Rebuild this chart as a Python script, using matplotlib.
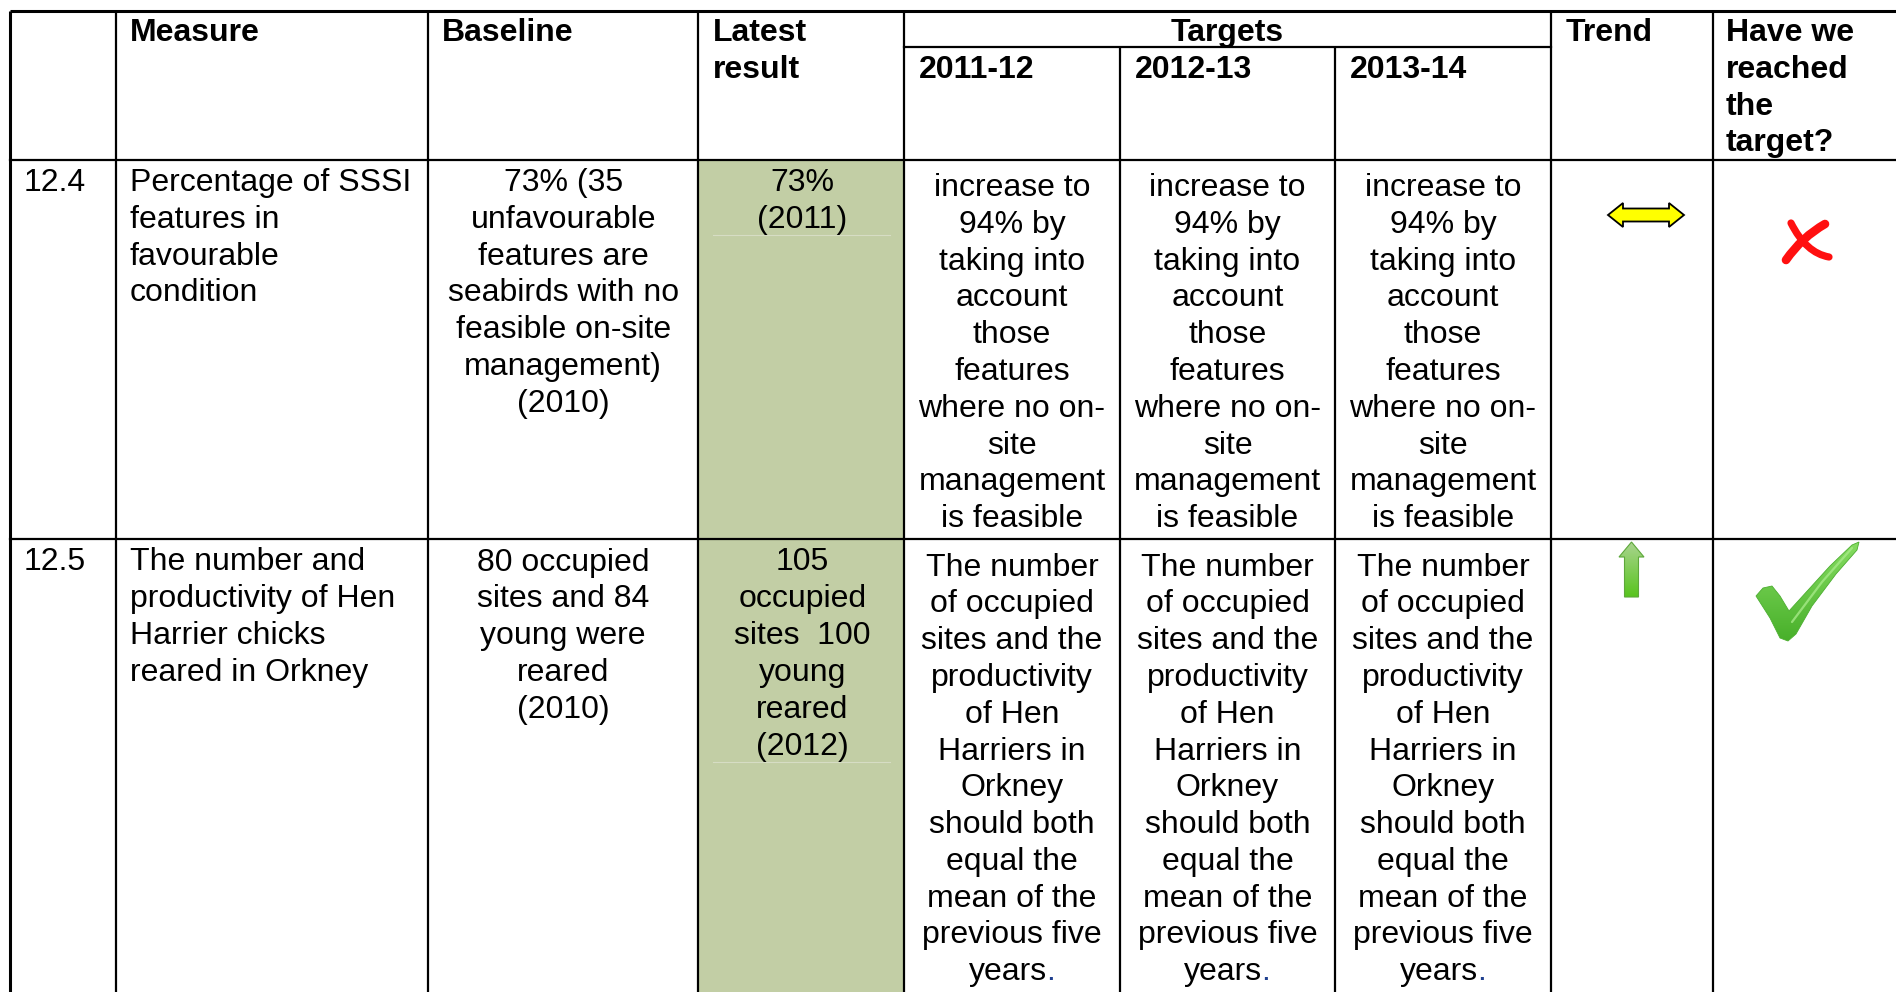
import matplotlib
matplotlib.use("Agg")
import matplotlib.pyplot as plt
import numpy as np
from matplotlib.patches import Polygon, Rectangle, PathPatch
from matplotlib.path import Path
from matplotlib.colors import to_rgb

plt.rcParams['font.family'] = ['Liberation Sans', 'DejaVu Sans']

# ---------------- data ----------------
header_main = ["Measure", "Baseline", "Latest\nresult"]
targets_title = "Targets"
target_years = ["2011-12", "2012-13", "2013-14"]
trend_title = "Trend"
reached_title = "Have we\nreached\nthe\ntarget?"

row_ids = ["12.4", "12.5"]
measures = [
    ["Percentage of SSSI", "features in", "favourable", "condition"],
    ["The number and", "productivity of Hen", "Harrier chicks", "reared in Orkney"],
]
baselines = [
    ["73% (35", "unfavourable", "features are", "seabirds with no",
     "feasible on-site", "management)", "(2010)"],
    ["80 occupied", "sites and 84", "young were", "reared", "(2010)"],
]
latest = [
    ["73%", "(2011)"],
    ["105", "occupied", "sites  100", "young", "reared", "(2012)"],
]
target_text = [
    ["increase to", "94% by", "taking into", "account", "those", "features",
     "where no on-", "site", "management", "is feasible"],
    ["The number", "of occupied", "sites and the", "productivity", "of Hen",
     "Harriers in", "Orkney", "should both", "equal the", "mean of the",
     "previous five", "years."],
]
trend = ["flat", "up"]
reached = ["no", "yes"]

# ---------------- layout ----------------
W, H = 1896, 992
fig = plt.figure(figsize=(W / 100, H / 100), dpi=100)
ax = fig.add_axes([0, 0, 1, 1])
ax.set_xlim(0, W)
ax.set_ylim(H, 0)
ax.axis('off')

col_x = [10.5, 116.5, 428, 698.5, 904, 1120, 1335, 1551, 1713]
y_top, y_sub, y_head, y_row2 = 11, 47, 159.5, 539
row_tops = [y_head, y_row2]

FS = 23
STEP = 36.8
GREEN_CELL = '#C2CEA5'
outer_lw = 2.2
inner_lw = 1.6

# green shading of "Latest result" column
ax.add_patch(Rectangle((col_x[3], y_head), col_x[4] - col_x[3], H - y_head,
                       facecolor=GREEN_CELL, edgecolor='none', zorder=0))

# grid lines
ax.plot([col_x[0], W + 5], [y_top, y_top], color='black', lw=outer_lw, solid_capstyle='butt')
ax.plot([col_x[4], col_x[7]], [y_sub, y_sub], color='black', lw=inner_lw)
for yy in [y_head, y_row2]:
    ax.plot([col_x[0], W + 5], [yy, yy], color='black', lw=inner_lw)
for i, xx in enumerate(col_x):
    y0 = y_sub if i in (5, 6) else y_top
    ax.plot([xx, xx], [y0, H + 5], color='black',
            lw=outer_lw if i == 0 else inner_lw, solid_capstyle='butt')


def draw_lines(lines, x, y0, ha='left', weight='normal', color='black'):
    arts = []
    for k, ln in enumerate(lines):
        arts.append(ax.text(x, y0 + k * STEP, ln, ha=ha, va='baseline',
                            fontsize=FS, fontweight=weight, color=color, zorder=3))
    return arts


# header
hb = 41
draw_lines(header_main[0].split("\n"), 130, hb, weight='bold')
draw_lines(header_main[1].split("\n"), 442, hb, weight='bold')
draw_lines(header_main[2].split("\n"), 713, hb, weight='bold')
ax.text((col_x[4] + col_x[7]) / 2, hb, targets_title, ha='center', va='baseline',
        fontsize=FS, fontweight='bold')
for j, yr in enumerate(target_years):
    ax.text(col_x[4 + j] + 15, hb + STEP, yr, ha='left', va='baseline',
            fontsize=FS, fontweight='bold')
draw_lines(trend_title.split("\n"), 1566, hb, weight='bold')
draw_lines(reached_title.split("\n"), 1726, hb, weight='bold')

# body rows
period_texts = []
for r in range(2):
    b0 = row_tops[r] + 31.5
    draw_lines([row_ids[r]], 24, b0)
    draw_lines(measures[r], 130, b0)
    draw_lines(baselines[r], (col_x[2] + col_x[3]) / 2, b0, ha='center')
    draw_lines(latest[r], (col_x[3] + col_x[4]) / 2 + 1, b0, ha='center')
    # faint paragraph rule under the latest result
    yl = b0 + (len(latest[r]) - 1) * STEP + 7
    ax.plot([713, 890], [yl, yl], color='#D6DDC4', lw=0.8, zorder=1)
    for j in range(3):
        cx = (col_x[4 + j] + col_x[5 + j]) / 2
        arts = draw_lines(target_text[r], cx, b0 + 5, ha='center')
        if target_text[r][-1].endswith('.'):
            period_texts.append(arts[-1])

# split the final "years." into black word + blue full stop
fig.canvas.draw()
renderer = fig.canvas.get_renderer()
inv = ax.transData.inverted()
for t in period_texts:
    bb = t.get_window_extent(renderer)
    xl, _ = inv.transform((bb.x0, bb.y0))
    yb = t.get_position()[1]
    word = t.get_text()[:-1]
    t.set_text(word)
    t.set_ha('left')
    t.set_x(xl)
    bb2 = t.get_window_extent(renderer)
    xw, _ = inv.transform((bb2.x1, bb2.y0))
    ax.text(xw - 1.0, yb, ".", ha='left', va='baseline', fontsize=FS,
            color='#1F3F8F', zorder=4)


def grad_poly(verts, c_top, c_bot, edge, lw=1.0):
    poly = Polygon(verts, closed=True, facecolor='none', edgecolor=edge, lw=lw, zorder=6)
    ax.add_patch(poly)
    xs = [v[0] for v in verts]
    ys = [v[1] for v in verts]
    t = np.linspace(0, 1, 64)[:, None, None]
    img = np.array(to_rgb(c_top))[None, None, :] * (1 - t) + np.array(to_rgb(c_bot))[None, None, :] * t
    img = np.repeat(img, 2, axis=1)
    im = ax.imshow(img, extent=(min(xs), max(xs), max(ys), min(ys)), origin='upper',
                   aspect='auto', interpolation='bilinear', zorder=5)
    im.set_clip_path(poly)


# trend icons
for r in range(2):
    if trend[r] == 'flat':
        cx, cy = 1646, 215
        v = [(cx - 38, cy), (cx - 23, cy - 12), (cx - 23, cy - 6.5), (cx + 23, cy - 6.5),
             (cx + 23, cy - 12), (cx + 38, cy), (cx + 23, cy + 12), (cx + 23, cy + 6.5),
             (cx - 23, cy + 6.5), (cx - 23, cy + 12)]
        ax.add_patch(Polygon(v, closed=True, facecolor='#FFFF00', edgecolor='black',
                             lw=1.3, zorder=5, joinstyle='miter'))
    else:
        cx, top = 1631.5, 542
        v = [(cx, top), (cx + 12.5, top + 15), (cx + 7, top + 15), (cx + 7, top + 55),
             (cx - 7, top + 55), (cx - 7, top + 15), (cx - 12.5, top + 15)]
        grad_poly(v, '#A9D48E', '#58C41E', '#5DA83A', lw=0.8)

# reached icons
for r in range(2):
    if reached[r] == 'no':
        pa = Path([(1825, 224), (1802, 237), (1786, 260)],
                  [Path.MOVETO, Path.CURVE3, Path.CURVE3])
        pb = Path([(1791, 223), (1806, 253), (1829, 257)],
                  [Path.MOVETO, Path.CURVE3, Path.CURVE3])
        ax.add_patch(PathPatch(pb, facecolor='none', edgecolor='#FF1010', lw=5.2,
                               capstyle='round', zorder=5))
        ax.add_patch(PathPatch(pa, facecolor='none', edgecolor='#FF1010', lw=6.2,
                               capstyle='round', zorder=5))
    else:
        v = [(1756, 596), (1763, 588), (1772, 586), (1780, 596), (1789, 611),
             (1830, 566), (1852, 545), (1859, 542), (1857, 550), (1836, 574),
             (1812, 606), (1796, 634), (1788, 641), (1780, 638), (1770, 618)]
        grad_poly(v, '#86DC62', '#48B02A', '#4CAE30', lw=0.6)
        ax.plot([1792, 1822, 1852], [622, 582, 548], color='#A6EA88', lw=1.6,
                alpha=0.8, zorder=7, solid_capstyle='round')

ax.set_xlim(0, W)
ax.set_ylim(H, 0)
fig.savefig("out.png", dpi=100)
